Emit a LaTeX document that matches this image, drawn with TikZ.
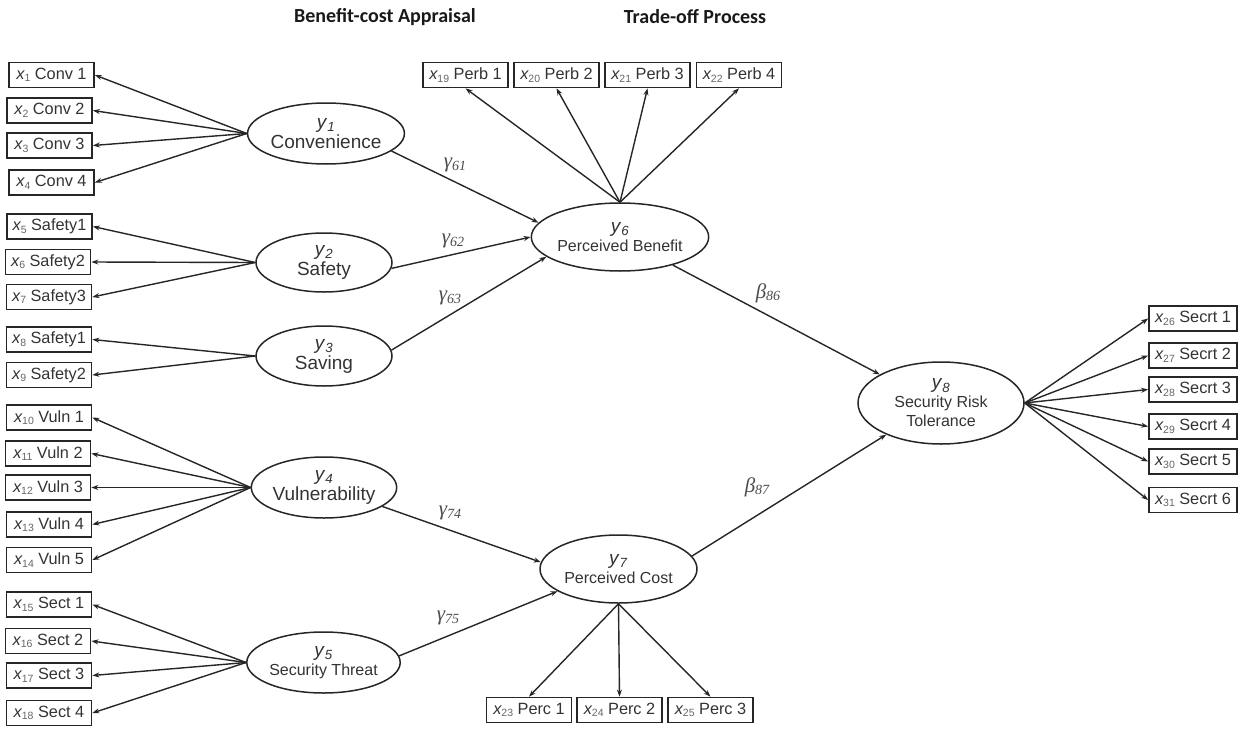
\documentclass[tikz,border=0pt]{standalone}
\usepackage{fontspec}
\setmainfont{Liberation Sans}
\newfontfamily\titlefont{Carlito}
\newfontfamily\grk{Liberation Serif}
\usetikzlibrary{shapes.geometric,arrows.meta}
\newcommand\xlab[1]{{\itshape x}{\fontsize{10.5}{10.5}\selectfont\color{black!60}\raisebox{-2.5pt}{#1}}}
\newcommand\cf[2]{#1\raisebox{-2.5pt}{\fontsize{14}{14}\selectfont #2}}
\begin{document}
\begin{tikzpicture}[x=1pt,y=-1pt,
 ind/.style={draw=black!85, line width=1.7pt, minimum width=85pt, minimum height=25pt, inner sep=0pt, font=\fontsize{16.3}{16}\selectfont, text=black!80},
 wide/.style={minimum width=88pt},
 lat/.style={draw=black!85, line width=1.5pt, ellipse, inner sep=0pt, align=center, text=black!80},
 big/.style={font=\fontsize{19}{20}\selectfont},
 small/.style={font=\fontsize{16}{19}\selectfont},
 arr/.style={-{Stealth[length=7pt,width=5pt]}, line width=1.4pt, draw=black!85},
 coef/.style={font=\grk\itshape\fontsize{21}{21}\selectfont, text=black!70},
 ttl/.style={font=\titlefont\bfseries\fontsize{20}{20}\selectfont, text=black!90}]
\useasboundingbox (0,0) rectangle (1239,728);
\node[ttl] (t1) at (385,17) {Benefit-cost Appraisal};
\node[ttl] (t2) at (695,17) {Trade-off Process};
% left indicators
\node[ind] (x1) at (51.5,75) {\xlab{1} Conv 1};
\node[ind] (x2) at (49.5,110.5) {\xlab{2} Conv 2};
\node[ind] (x3) at (49.5,145.5) {\xlab{3} Conv 3};
\node[ind] (x4) at (51.5,182.5) {\xlab{4} Conv 4};
\node[ind] (x5) at (49.5,226.5) {\xlab{5} Safety1};
\node[ind] (x6) at (48,262) {\xlab{6} Safety2};
\node[ind] (x7) at (49,297) {\xlab{7} Safety3};
\node[ind] (x8) at (49,339.5) {\xlab{8} Safety1};
\node[ind] (x9) at (49,375) {\xlab{9} Safety2};
\node[ind] (x10) at (49,417.5) {\xlab{10} Vuln 1};
\node[ind] (x11) at (48,453.5) {\xlab{11} Vuln 2};
\node[ind] (x12) at (48,487.5) {\xlab{12} Vuln 3};
\node[ind] (x13) at (49,524.5) {\xlab{13} Vuln 4};
\node[ind] (x14) at (49,560) {\xlab{14} Vuln 5};
\node[ind] (x15) at (49,604.5) {\xlab{15} Sect 1};
\node[ind] (x16) at (48,641) {\xlab{16} Sect 2};
\node[ind] (x17) at (49,675.5) {\xlab{17} Sect 3};
\node[ind] (x18) at (49,713) {\xlab{18} Sect 4};
% top
\node[ind] (x19) at (465.5,75) {\xlab{19} Perb 1};
\node[ind] (x20) at (556.5,75) {\xlab{20} Perb 2};
\node[ind] (x21) at (647.5,75) {\xlab{21} Perb 3};
\node[ind] (x22) at (739,75) {\xlab{22} Perb 4};
% bottom
\node[ind] (x23) at (529,710) {\xlab{23} Perc 1};
\node[ind] (x24) at (619.5,710) {\xlab{24} Perc 2};
\node[ind] (x25) at (710.5,710) {\xlab{25} Perc 3};
% right
\node[ind,wide] (x26) at (1193,318.5) {\xlab{26} Secrt 1};
\node[ind,wide] (x27) at (1193,355.5) {\xlab{27} Secrt 2};
\node[ind,wide] (x28) at (1193,389.5) {\xlab{28} Secrt 3};
\node[ind,wide] (x29) at (1193,426.5) {\xlab{29} Secrt 4};
\node[ind,wide] (x30) at (1193,461.5) {\xlab{30} Secrt 5};
\node[ind,wide] (x31) at (1193,500) {\xlab{31} Secrt 6};
% latent
\node[lat,big,minimum width=136pt,minimum height=61pt] (y1) at (326,133.5) {\textit{y}\textsubscript{\textit{1}}\\Convenience};
\node[lat,big,minimum width=136pt,minimum height=59pt] (y2) at (324,262.5) {\textit{y}\textsubscript{\textit{2}}\\Safety};
\node[lat,big,minimum width=136pt,minimum height=60pt] (y3) at (324,356) {\textit{y}\textsubscript{\textit{3}}\\Saving};
\node[lat,big,minimum width=138pt,minimum height=61pt] (y4) at (324,487.5) {\textit{y}\textsubscript{\textit{4}}\\Vulnerability};
\node[lat,small,minimum width=137pt,minimum height=61pt] (y5) at (323.5,662.5) {{\fontsize{19}{19}\selectfont\textit{y}\textsubscript{\textit{5}}}\\Security Threat};
\node[lat,small,minimum width=156pt,minimum height=68pt] (y6) at (620,237) {{\fontsize{19}{19}\selectfont\textit{y}\textsubscript{\textit{6}}}\\Perceived Benefit};
\node[lat,small,minimum width=157pt,minimum height=68pt] (y7) at (618.5,569) {{\fontsize{19}{19}\selectfont\textit{y}\textsubscript{\textit{7}}}\\Perceived Cost};
\node[lat,small,minimum width=166pt,minimum height=82pt] (y8) at (941,403) {{\fontsize{19}{19}\selectfont\textit{y}\textsubscript{\textit{8}}}\\Security Risk\\Tolerance};
% loadings
\foreach \i in {1,2,3,4} \draw[arr] (y1.west) -- (x\i.east);
\foreach \i in {5,6,7} \draw[arr] (y2.west) -- (x\i.east);
\foreach \i in {8,9} \draw[arr] (y3.west) -- (x\i.east);
\foreach \i in {10,...,14} \draw[arr] (y4.west) -- (x\i.east);
\foreach \i in {15,...,18} \draw[arr] (y5.west) -- (x\i.east);
\foreach \i in {19,...,22} \draw[arr] (y6.north) -- (x\i.south);
\foreach \i in {23,24,25} \draw[arr] (y7.south) -- (x\i.north);
\foreach \i in {26,...,31} \draw[arr] (y8.east) -- (x\i.west);
% structural paths
\draw[arr] (y1.-15) -- (y6.170);
\draw[arr] (y2.-5) -- (y6.west);
\draw[arr] (y3.5) -- (y6.195);
\draw[arr] (y4.-18) -- (y7.175);
\draw[arr] (y5.5) -- (y7.200);
\draw[arr] (y6.-28) -- (y8.155);
\draw[arr] (y7.10) -- (y8.210);
% coefficients
\node[coef] (g61) at (455,165) {\cf{γ}{61}};
\node[coef] (g62) at (453,241) {\cf{γ}{62}};
\node[coef] (g63) at (450,298) {\cf{γ}{63}};
\node[coef] (b86) at (768,293) {\cf{β}{86}};
\node[coef] (g74) at (450,513) {\cf{γ}{74}};
\node[coef] (g75) at (448,618) {\cf{γ}{75}};
\node[coef] (b87) at (757,487) {\cf{β}{87}};
\end{tikzpicture}
\end{document}
